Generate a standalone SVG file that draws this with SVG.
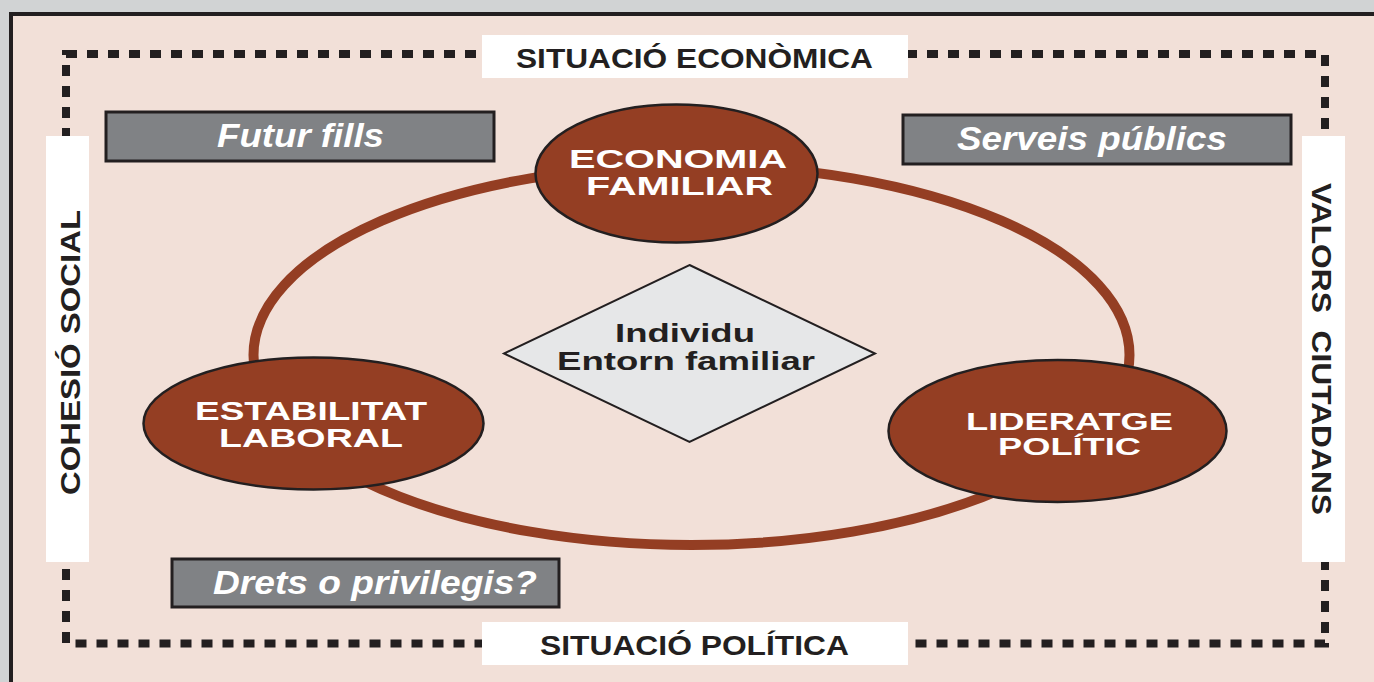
<svg xmlns="http://www.w3.org/2000/svg" width="1374" height="682" viewBox="0 0 1374 682">
<style>
.lbl{font-family:"Liberation Sans",Arial,sans-serif;font-weight:bold;fill:#231f20;}
.wt{font-family:"Liberation Sans",Arial,sans-serif;font-weight:bold;fill:#ffffff;}
.it{font-family:"Liberation Sans",Arial,sans-serif;font-weight:bold;font-style:italic;fill:#ffffff;font-size:33px;}
.gbox{fill:#808285;stroke:#231f20;stroke-width:3;}
.wbox{fill:#ffffff;}
.node{fill:#943e23;stroke:#231f20;stroke-width:2.5;}
</style>
<rect x="0" y="0" width="1374" height="682" fill="#d1d3d4"/>
<rect x="11" y="14" width="1400" height="700" fill="#f2e0d8" stroke="#231f20" stroke-width="4"/>
<g id="frame">
<rect x="66" y="54" width="1259" height="589.5" fill="none" stroke="#231f20" stroke-width="8" stroke-dasharray="11 10"/>
</g>
<g id="connectors">
<ellipse cx="691.5" cy="355" rx="438" ry="190" fill="none" stroke="#943e23" stroke-width="10"/>
</g>
<g id="situacio-economica">
<rect class="wbox" x="482" y="35" width="426" height="43"/>
<text class="lbl" x="516" y="68" font-size="27" textLength="357" lengthAdjust="spacingAndGlyphs">SITUACIÓ ECONÒMICA</text>
</g>
<g id="situacio-politica">
<rect class="wbox" x="482" y="622" width="426" height="43"/>
<text class="lbl" x="540" y="655" font-size="27" textLength="309" lengthAdjust="spacingAndGlyphs">SITUACIÓ POLÍTICA</text>
</g>
<g id="cohesio-social">
<rect class="wbox" x="46" y="136" width="43" height="426"/>
<text class="lbl" transform="translate(80,495) rotate(-90)" x="0" y="0" font-size="28" textLength="285" lengthAdjust="spacingAndGlyphs">COHESIÓ SOCIAL</text>
</g>
<g id="valors-ciutadans">
<rect class="wbox" x="1302" y="136" width="43" height="426"/>
<text class="lbl" transform="translate(1312,183) rotate(90)" x="0" y="0" font-size="28" textLength="332" lengthAdjust="spacingAndGlyphs" xml:space="preserve">VALORS  CIUTADANS</text>
</g>
<g id="futur-fills">
<rect class="gbox" x="106" y="112" width="388" height="49"/>
<text class="it" x="217" y="147" textLength="167" lengthAdjust="spacingAndGlyphs">Futur fills</text>
</g>
<g id="serveis-publics">
<rect class="gbox" x="903" y="115" width="388" height="49"/>
<text class="it" x="957" y="150" textLength="270" lengthAdjust="spacingAndGlyphs">Serveis públics</text>
</g>
<g id="drets-privilegis">
<rect class="gbox" x="172" y="559" width="387" height="48"/>
<text class="it" x="213" y="594" textLength="324" lengthAdjust="spacingAndGlyphs">Drets o privilegis?</text>
</g>
<g id="economia-familiar">
<ellipse class="node" cx="676.5" cy="173.5" rx="141" ry="69"/>
<text class="wt" x="569" y="168" font-size="25" textLength="218" lengthAdjust="spacingAndGlyphs">ECONOMIA</text>
<text class="wt" x="586" y="195" font-size="25" textLength="187" lengthAdjust="spacingAndGlyphs">FAMILIAR</text>
</g>
<g id="estabilitat-laboral">
<ellipse class="node" cx="313.5" cy="423.5" rx="170" ry="66"/>
<text class="wt" x="195" y="420" font-size="26" textLength="232" lengthAdjust="spacingAndGlyphs">ESTABILITAT</text>
<text class="wt" x="219" y="447" font-size="26" textLength="184" lengthAdjust="spacingAndGlyphs">LABORAL</text>
</g>
<g id="lideratge-politic">
<ellipse class="node" cx="1057.5" cy="431" rx="169" ry="71"/>
<text class="wt" x="966" y="430" font-size="24" textLength="207" lengthAdjust="spacingAndGlyphs">LIDERATGE</text>
<text class="wt" x="998" y="455" font-size="24" textLength="143" lengthAdjust="spacingAndGlyphs">POLÍTIC</text>
</g>
<g id="individu">
<polygon points="689.5,265 875,353.5 689.5,442 504,353.5" fill="#e6e7e8" stroke="#231f20" stroke-width="2"/>
<text class="lbl" x="615" y="342" font-size="26" textLength="140" lengthAdjust="spacingAndGlyphs">Individu</text>
<text class="lbl" x="557" y="370" font-size="26" textLength="258" lengthAdjust="spacingAndGlyphs">Entorn familiar</text>
</g>
</svg>
